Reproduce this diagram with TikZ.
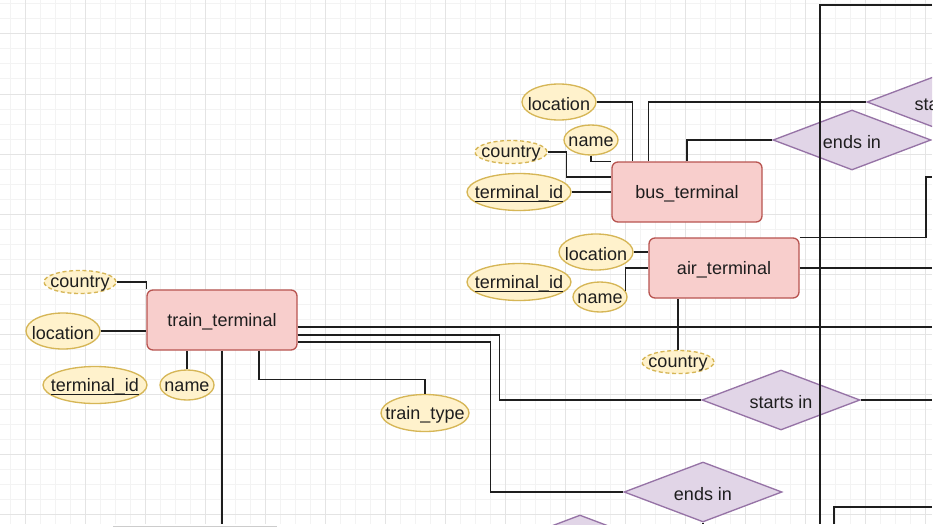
\documentclass[tikz,border=0pt]{standalone}
\usepackage{fontspec}
\setmainfont{Liberation Sans}
\usetikzlibrary{shapes.geometric,calc}
\definecolor{entfill}{HTML}{F8CECC}
\definecolor{entdraw}{HTML}{B85450}
\definecolor{attfill}{HTML}{FFF2CC}
\definecolor{attdraw}{HTML}{D6B656}
\definecolor{relfill}{HTML}{E1D5E7}
\definecolor{reldraw}{HTML}{9673A6}
\definecolor{gridminor}{HTML}{F3F3F3}
\definecolor{gridmajor}{HTML}{E4E4E4}
\definecolor{ink}{HTML}{1E1E1E}
\newsavebox\ulbox
\newcommand\ulined[1]{\sbox\ulbox{#1}\rlap{\rule[-3pt]{\wd\ulbox}{1pt}}\usebox\ulbox}
\begin{document}
\begin{tikzpicture}[x=0.75pt,y=-0.75pt,
  lbl/.style={font=\fontsize{13.5}{16}\selectfont,text=ink,inner sep=0pt},
  txt/.style={label={[lbl,yshift=-1.2pt]center:#1}},
  entity/.style={draw=entdraw,fill=entfill,line width=1pt,rounded corners=4.5pt,
    minimum width=112.5pt,minimum height=45pt,inner sep=0pt},
  attr/.style={ellipse,draw=attdraw,fill=attfill,line width=1pt,inner sep=0pt},
  weak/.style={dash pattern=on 3pt off 2pt},
  esz/.style 2 args={minimum width=#1,minimum height=#2},
  rel/.style={diamond,draw=reldraw,fill=relfill,line width=1pt,inner sep=0pt,aspect=2.6,
    minimum width=118.5pt,minimum height=45pt},
  link/.style={draw=ink,line width=1.1pt}
]
\useasboundingbox (0,0) rectangle (938,528);
\fill[white] (0,0) rectangle (938,528);
% grid
\foreach \x in {10,25,...,925} \draw[gridminor,line width=0.75pt] (\x,0) -- (\x,524);
\foreach \y in {4,19,...,519} \draw[gridminor,line width=0.75pt] (0,\y) -- (932,\y);
\foreach \x in {25,85,...,925} \draw[gridmajor,line width=0.75pt] (\x,0) -- (\x,524);
\foreach \y in {34,94,...,514} \draw[gridmajor,line width=0.75pt] (0,\y) -- (932,\y);
\draw[black!20,line width=1pt] (113,526.5) -- (277,526.5);

\begin{scope}
\clip (0,0) rectangle (932,524);
\coordinate (edgeR) at (932,0);
\coordinate (edgeB) at (0,524);
\coordinate (vtop) at (932,5);
\coordinate (ra1) at (932,177);
\coordinate (br1) at (834,524);
\coordinate (br2) at (932,507);

% entities
\node[entity,txt=bus\_terminal] (bus) at (687,192) {};
\node[entity,txt=air\_terminal] (air) at (724,268) {};
\node[entity,txt=train\_terminal] (train) at (222,320) {};

% relationships
\node[rel,txt=starts in] (rs1) at (946,102) {};
\node[rel,txt=ends in] (re1) at (852,140) {};
\node[rel,txt=starts in] (rs2) at (781,400) {};
\node[rel,txt=ends in] (re2) at (703,492) {};
\node[rel] (rb) at (580,545) {};

% bus attributes
\node[attr,esz={55.5pt}{27pt},txt=location] (bl) at (559,102) {};
\node[attr,esz={40.5pt}{22.5pt},txt=name] (bn) at (591,140) {};
\node[attr,weak,esz={54pt}{17.25pt},txt=country] (bc) at (511,152) {};
\node[attr,esz={78pt}{27.75pt},txt={\ulined{terminal\_id}}] (bt) at (519,192) {};

% air attributes
\node[attr,esz={55.5pt}{27pt},txt=location] (al) at (596,252) {};
\node[attr,esz={78pt}{27.75pt},txt={\ulined{terminal\_id}}] (at) at (519,282) {};
\node[attr,esz={40.5pt}{22.5pt},txt=name] (an) at (600,297) {};
\node[attr,weak,esz={54pt}{17.25pt},txt=country] (ac) at (678,362) {};

% train attributes
\node[attr,weak,esz={54pt}{17.25pt},txt=country] (tc) at (80,282) {};
\node[attr,esz={55.5pt}{27pt},txt=location] (tl) at (63,331) {};
\node[attr,esz={78pt}{27.75pt},txt={\ulined{terminal\_id}}] (tt) at (95,385) {};
\node[attr,esz={40.5pt}{22.5pt},txt=name] (tn) at (187,385) {};
\node[attr,esz={66pt}{27.75pt},txt=train\_type] (ty) at (425,413) {};

% connectors: bus
\draw[link] (bl.east) -| ($(bus.north west)+(21,0)$);
\draw[link] (bn.south) |- (bus.north west);
\draw[link] (bc.east) -- ++(19,0) |- ($(bus.west)+(0,-15)$);
\draw[link] (bt.east) -- (bus.west);
\draw[link] ($(bus.north west)+(37,0)$) |- (rs1.west);
\draw[link] (bus.north) |- (re1.west);
% long vertical line
\draw[link] (vtop) -- (820,5) -- (820,524);
% air
\draw[link] (al.east) -- (al.east -| air.west);
\draw[link] (an.13) |- (air.west);
\draw[link] (ac.north) -- (ac.north |- air.south);
\draw[link] (air.north east) -| ($(ra1)+(-6,0)$) -- (ra1);
\draw[link] (air.east) -- (air.east -| edgeR);
% train
\coordinate (t1) at ($(train.east)+(0,7)$);
\coordinate (t2) at ($(train.east)+(0,15)$);
\coordinate (t3) at ($(train.east)+(0,22)$);
\draw[link] (tc.east) -| (train.north west);
\draw[link] (tl.east) -- (tl.east -| train.west);
\draw[link] (tn.north) -- (tn.north |- train.south);
\draw[link] (train.south) -- (train.south |- edgeB);
\draw[link] ($(train.south)+(37,0)$) -- ++(0,29) -| (ty.north);
\draw[link] (t1) -- (t1 -| edgeR);
\draw[link] (t2) -- ++(202,0) |- (rs2.west);
\draw[link] (rs2.east) -- (rs2.east -| edgeR);
\draw[link] (t3) -- ++(193,0) |- (re2.west);
\draw[link] (re2.south) -- (re2.south |- edgeB);
\draw[link] (br1) |- (br2);
\end{scope}
\end{tikzpicture}
\end{document}
